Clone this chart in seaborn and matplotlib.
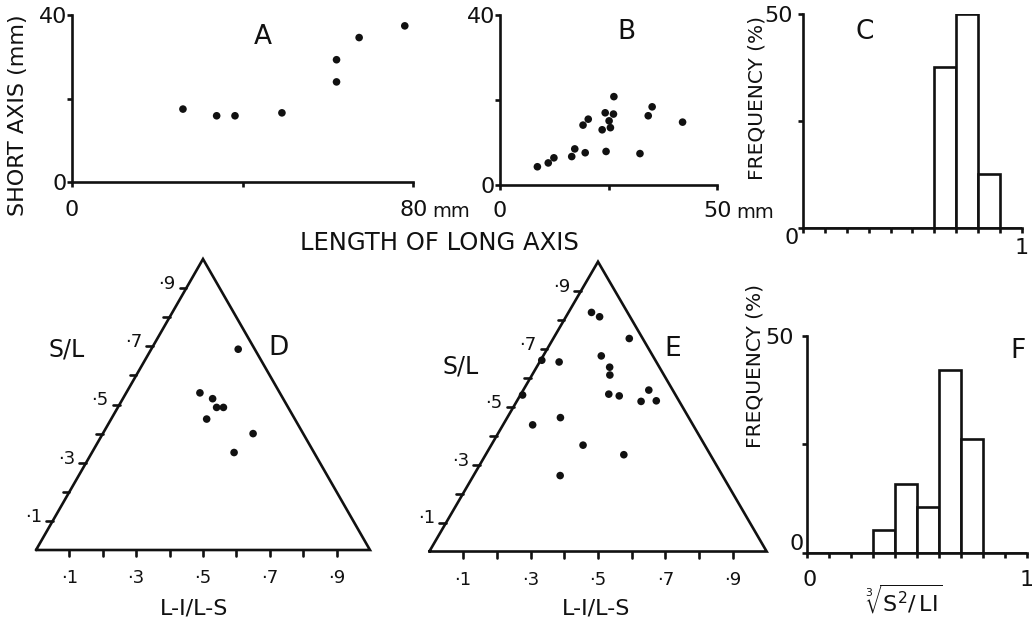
import numpy as np
import pandas as pd
import matplotlib
matplotlib.use("Agg")
import matplotlib.pyplot as plt
import seaborn as sns

# --- values ---
# A: long axis vs short axis (mm)
a_long = [26.0, 33.9, 38.2, 49.2, 62.0, 62.0, 67.3, 78.0]
a_short = [17.5, 15.9, 15.9, 16.6, 24.0, 29.3, 34.6, 37.4]

# B: long axis vs short axis (mm)
b_long = [8.6, 11.1, 12.4, 16.5, 17.2, 19.6, 24.4, 19.1, 20.3, 24.2,
          26.2, 26.1, 25.1, 23.5, 25.4, 32.2, 34.1, 35.0, 42.0]
b_short = [4.3, 5.2, 6.4, 6.7, 8.5, 7.6, 7.9, 14.1, 15.5, 17.0,
           20.8, 16.7, 15.1, 13.0, 13.5, 7.4, 16.3, 18.4, 14.8]

# C and F: sphericity histograms (bin left edge, frequency %)
c_bins = [0.6, 0.7, 0.8]
c_freq = [37.5, 50.0, 12.5]
f_bins = [0.3, 0.4, 0.5, 0.6, 0.7]
f_freq = [5.3, 15.8, 10.5, 42.1, 26.3]

# D and E: form triangle, S/L and (L-I)/(L-S)
d_sl = [0.69, 0.54, 0.52, 0.49, 0.49, 0.45, 0.40, 0.335]
d_li = [0.84, 0.48, 0.56, 0.58, 0.62, 0.52, 0.75, 0.64]
e_sl = [0.825, 0.81, 0.735, 0.66, 0.654, 0.675, 0.636, 0.609, 0.54, 0.543,
        0.537, 0.557, 0.518, 0.52, 0.437, 0.462, 0.367, 0.334, 0.262]
e_li = [0.39, 0.525, 0.85, 0.01, 0.167, 0.53, 0.595, 0.59, 0.014, 0.57,
        0.636, 0.84, 0.765, 0.86, 0.156, 0.293, 0.43, 0.615, 0.348]

tri_ticks = [0.1, 0.2, 0.3, 0.4, 0.5, 0.6, 0.7, 0.8, 0.9]
tri_labels = ["\u00b71", "\u00b73", "\u00b75", "\u00b77", "\u00b79"]

sns.set_theme(style="ticks")
plt.rcParams["font.family"] = ["DejaVu Sans"]
plt.rcParams["mathtext.fontset"] = "dejavusans"

INK = "#111111"
LW = 1.9

fig = plt.figure(figsize=(10.32, 6.27), dpi=100)


def frame(ax, xpad, ypad):
    sns.despine(ax=ax)
    for side in ["left", "bottom"]:
        ax.spines[side].set_linewidth(LW)
        ax.spines[side].set_color(INK)
    ax.tick_params(length=3.5, width=LW, color=INK, labelsize=16,
                   labelcolor=INK)
    ax.tick_params(axis="x", pad=xpad)
    ax.tick_params(axis="y", pad=ypad)
    ax.set_xlabel("")
    ax.set_ylabel("")


def note(ax, txt, xy, off, size=16, **kw):
    ax.annotate(txt, xy=xy, xytext=off, textcoords="offset pixels",
                ha="center", va="center", fontsize=size, color=INK,
                annotation_clip=False, **kw)


# ---- A ----
ax = fig.add_axes([0.0698, 0.7093, 0.3307, 0.2668])
sns.scatterplot(x=a_long, y=a_short, ax=ax, color=INK, s=30,
                edgecolor="none", clip_on=False)
ax.set_xlim(0, 80)
ax.set_ylim(0, 40)
ax.set_xticks([0, 40, 80], ["0", "", "80"])
ax.set_yticks([0, 20, 40], ["0", "", "40"])
frame(ax, 9, 0)
note(ax, "mm", (80, 0), (38, -29), size=14)
ax.text(0.56, 0.87, "A", transform=ax.transAxes, fontsize=19,
        ha="center", va="center", color=INK)

# ---- B ----
ax = fig.add_axes([0.4845, 0.7049, 0.2106, 0.2711])
sns.scatterplot(x=b_long, y=b_short, ax=ax, color=INK, s=30,
                edgecolor="none", clip_on=False)
ax.set_xlim(0, 50)
ax.set_ylim(0, 40)
ax.set_xticks([0, 25, 50], ["0", "", "50"])
ax.set_yticks([0, 20, 40], ["0", "", "40"])
frame(ax, 8, 0)
note(ax, "mm", (50, 0), (38, -27), size=14)
ax.text(0.58, 0.90, "B", transform=ax.transAxes, fontsize=19,
        ha="center", va="center", color=INK)

fig.text(439 / 1032, 1 - 243 / 627, "LENGTH OF LONG AXIS", fontsize=17.5,
         ha="center", va="center", color=INK)
fig.text(18 / 1032, 1 - 115 / 627, "SHORT AXIS (mm)", fontsize=16,
         rotation=90, ha="center", va="center", color=INK)


# ---- C and F ----
def hist_panel(rect, bins, freq, letter, letter_xy, xpad, ypad):
    ax = fig.add_axes(rect)
    df = pd.DataFrame({"mid": np.array(bins) + 0.05, "freq": freq})
    sns.histplot(data=df, x="mid", weights="freq", binwidth=0.1,
                 binrange=(0, 1), ax=ax, color="white", edgecolor=INK,
                 linewidth=LW, alpha=1)
    edges = np.round(np.arange(0, 1.01, 0.1), 2)
    ax.set_xlim(0, 1)
    ax.set_ylim(0, 50)
    ax.set_xticks(edges, [""] * 10 + ["1"])
    ax.set_yticks([0, 25, 50], ["", "", "50"])
    frame(ax, xpad, ypad)
    ax.text(letter_xy[0], letter_xy[1], letter, transform=ax.transAxes,
            fontsize=19, ha="center", va="center", color=INK)
    return ax


ax = hist_panel([0.7781, 0.6364, 0.2122, 0.3413], c_bins, c_freq, "C",
                (0.28, 0.915), 3.5, 4)
note(ax, "0", (0, 0), (-11, -10))

ax = hist_panel([0.7817, 0.1185, 0.2132, 0.3456], f_bins, f_freq, "F",
                (0.96, 0.93), 9, 6)
note(ax, "0", (0, 0), (-10, 9))
note(ax, "0", (0, 0), (3, -27))
ax.set_xlabel(r"$\mathrm{\sqrt[3]{S^2/\,LI}}$", fontsize=16, color=INK)
ax.xaxis.set_label_coords(0.44, -0.14)

fig.text(757 / 1032, 1 - 98 / 627, "FREQUENCY (%)", fontsize=14.5,
         rotation=90, ha="center", va="center", color=INK)
fig.text(755 / 1032, 1 - 366 / 627, "FREQUENCY (%)", fontsize=14.5,
         rotation=90, ha="center", va="center", color=INK)


# ---- D and E: form triangles ----
def triangle(rect, li, sl, letter, letter_xy, sl_xy, li_xy):
    ax = fig.add_axes(rect)
    ax.set_xlim(0, 1)
    ax.set_ylim(0, 1)
    ax.axis("off")
    ax.plot([0, 1, 0.5, 0], [0, 0, 1, 0], color=INK, lw=LW,
            solid_joinstyle="miter", clip_on=False)
    for t in tri_ticks:
        ax.plot([t / 2 - 0.02, t / 2], [t, t], color=INK, lw=LW,
                clip_on=False)
        ax.plot([t, t], [0, -0.022], color=INK, lw=LW, clip_on=False)
    for t, lab in zip(tri_ticks[::2], tri_labels):
        ax.text(t / 2 - 0.058, t + 0.014, lab, fontsize=13, ha="center",
                va="center", color=INK)
        ax.text(t, -0.097, lab, fontsize=13, ha="center", va="center",
                color=INK)
    sl = np.array(sl)
    x = 0.5 + (np.array(li) - 0.5) * (1 - sl)
    sns.scatterplot(x=x, y=sl, ax=ax, color=INK, s=30, edgecolor="none",
                    clip_on=False)
    ax.set_xlim(0, 1)
    ax.set_ylim(0, 1)
    ax.text(*letter_xy, letter, fontsize=19, ha="center", va="center",
            color=INK)
    ax.text(*sl_xy, "S/L", fontsize=17, ha="center", va="center", color=INK)
    ax.text(*li_xy, "L-I/L-S", fontsize=16, ha="center", va="center",
            color=INK)


triangle([0.0349, 0.1228, 0.3236, 0.4641], d_li, d_sl, "D",
         (0.725, 0.694), (0.093, 0.69), (0.473, -0.2))
triangle([0.4160, 0.1204, 0.3269, 0.4622], e_li, e_sl, "E",
         (0.722, 0.699), (0.094, 0.64), (0.494, -0.195))

fig.savefig("out.png", dpi=100, facecolor="white")
